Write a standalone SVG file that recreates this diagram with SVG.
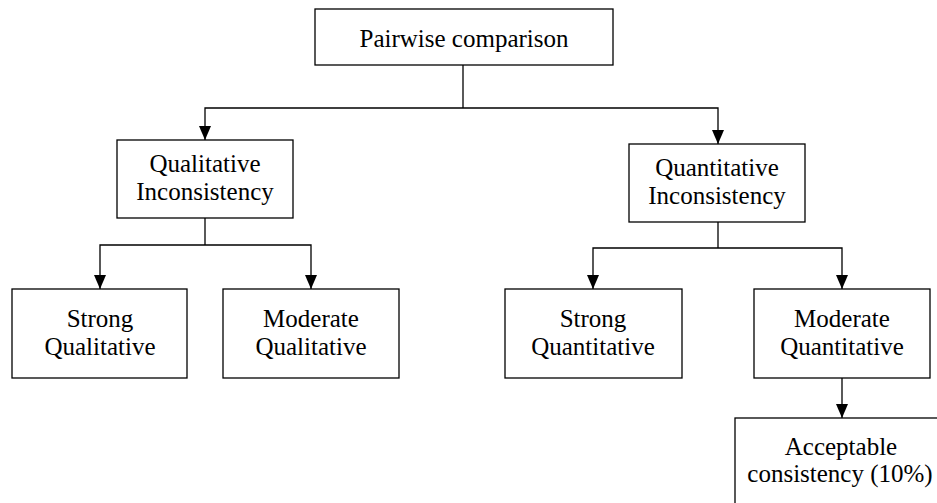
<svg xmlns="http://www.w3.org/2000/svg" width="937" height="503" viewBox="0 0 937 503">
<style>
  .box { fill: #fff; stroke: #000; stroke-width: 1.3; }
  .lbl { font-size: 25px; fill: #000; text-anchor: middle; }
  .edge { fill: none; stroke: #000; stroke-width: 1.3; }
</style>
<defs>
  <marker id="arr" viewBox="0 0 14 12" refX="14" refY="6" markerWidth="14" markerHeight="12" markerUnits="userSpaceOnUse" orient="auto">
    <path d="M0,0 L14,6 L0,12 z" fill="#000"/>
  </marker>
</defs>
<rect width="937" height="503" fill="#fff"/>
<g id="connectors">
  <path class="edge" d="M463,65 V108"/>
  <path class="edge" d="M463,108 H205 V140" marker-end="url(#arr)"/>
  <path class="edge" d="M463,108 H718 V144" marker-end="url(#arr)"/>
  <path class="edge" d="M205,218 V245"/>
  <path class="edge" d="M205,245 H100 V289" marker-end="url(#arr)"/>
  <path class="edge" d="M205,245 H311 V289" marker-end="url(#arr)"/>
  <path class="edge" d="M718,222 V248"/>
  <path class="edge" d="M718,248 H593 V289" marker-end="url(#arr)"/>
  <path class="edge" d="M718,248 H842 V289" marker-end="url(#arr)"/>
  <path class="edge" d="M842,378 V418" marker-end="url(#arr)"/>
</g>
<g font-family="Liberation Serif, Times New Roman, DejaVu Serif, serif">
<g id="pairwise">
  <rect class="box" x="315" y="9" width="298" height="56"/>
  <text class="lbl" x="464" y="47">Pairwise comparison</text>
</g>
<g id="qualitative">
  <rect class="box" x="117" y="140" width="176" height="78"/>
  <text class="lbl" x="205" y="172">Qualitative</text>
  <text class="lbl" x="205" y="200">Inconsistency</text>
</g>
<g id="quantitative">
  <rect class="box" x="629" y="144" width="176" height="78"/>
  <text class="lbl" x="717" y="176">Quantitative</text>
  <text class="lbl" x="717" y="204">Inconsistency</text>
</g>
<g id="strong-qual">
  <rect class="box" x="12" y="289" width="175" height="89"/>
  <text class="lbl" x="100" y="327">Strong</text>
  <text class="lbl" x="100" y="355">Qualitative</text>
</g>
<g id="moderate-qual">
  <rect class="box" x="223" y="289" width="176" height="89"/>
  <text class="lbl" x="311" y="327">Moderate</text>
  <text class="lbl" x="311" y="355">Qualitative</text>
</g>
<g id="strong-quant">
  <rect class="box" x="505" y="289" width="177" height="89"/>
  <text class="lbl" x="593" y="327">Strong</text>
  <text class="lbl" x="593" y="355">Quantitative</text>
</g>
<g id="moderate-quant">
  <rect class="box" x="754" y="289" width="176" height="89"/>
  <text class="lbl" x="842" y="327">Moderate</text>
  <text class="lbl" x="842" y="355">Quantitative</text>
</g>
<g id="acceptable">
  <rect class="box" x="735" y="418" width="214" height="100"/>
  <text class="lbl" x="841" y="455">Acceptable</text>
  <text class="lbl" x="840" y="482">consistency (10%)</text>
</g>
</g>
</svg>
